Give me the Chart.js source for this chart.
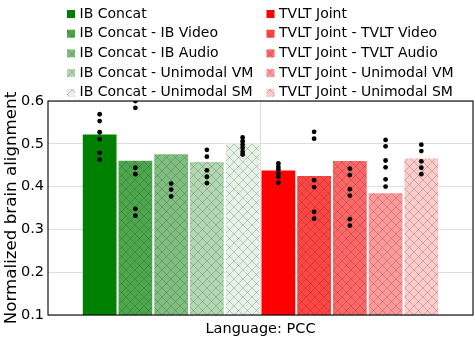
<!DOCTYPE html>
<html>
<head>
<meta charset="utf-8">
<script src="https://cdn.jsdelivr.net/npm/chart.js@4"></script>
<style>
  html, body { margin: 0; padding: 0; background: #fff; }
  #wrap { width: 475px; height: 358px; }
</style>
</head>
<body>
<div id="wrap"><canvas id="chart" width="475" height="358"></canvas></div>
<script>
const categories = ['Language: PCC'];

const ibLabels = ['IB Concat', 'IB Concat - IB Video', 'IB Concat - IB Audio', 'IB Concat - Unimodal VM', 'IB Concat - Unimodal SM'];
const tvltLabels = ['TVLT Joint', 'TVLT Joint - TVLT Video', 'TVLT Joint - TVLT Audio', 'TVLT Joint - Unimodal VM', 'TVLT Joint - Unimodal SM'];

const ibMeans = [0.524, 0.463, 0.478, 0.460, 0.502];
const tvltMeans = [0.440, 0.427, 0.462, 0.387, 0.468];

// per-subject values (black dots)
const ibPoints = [
  [0.569, 0.553, 0.527, 0.511, 0.479, 0.463],
  [0.600, 0.584, 0.444, 0.429, 0.348, 0.332],
  [0.407, 0.393, 0.377],
  [0.486, 0.470, 0.438, 0.423, 0.408],
  [0.515, 0.506, 0.498, 0.490, 0.481, 0.475]
];
const tvltPoints = [
  [0.454, 0.446, 0.440, 0.430, 0.423, 0.409],
  [0.528, 0.512, 0.415, 0.399, 0.341, 0.325],
  [0.442, 0.427, 0.394, 0.379, 0.324, 0.309],
  [0.509, 0.494, 0.461, 0.445, 0.417, 0.400],
  [0.498, 0.483, 0.459, 0.444, 0.429]
];

const ibColors = ['#008000', '#4ca64c', '#7fbf7f', '#b2d8b2', '#e5f2e5'];
const tvltColors = ['#ff0000', '#ff4444', '#ff6666', '#ff9999', '#ffcccc'];

const FONT = "'DejaVu Sans', sans-serif";

function hatch(color) {
  const c = document.createElement('canvas');
  c.width = 9; c.height = 9;
  const g = c.getContext('2d');
  g.fillStyle = color;
  g.fillRect(0, 0, 9, 9);
  g.strokeStyle = 'rgba(40,40,40,0.25)';
  g.lineWidth = 0.9;
  g.beginPath();
  g.moveTo(-1, -1); g.lineTo(10, 10);
  g.moveTo(-1, 10); g.lineTo(10, -1);
  g.stroke();
  return document.getElementById('chart').getContext('2d').createPattern(c, 'repeat');
}

const labels = ibLabels.concat(tvltLabels);
const means = ibMeans.concat(tvltMeans);
const points = ibPoints.concat(tvltPoints);
const colors = ibColors.concat(tvltColors);

const datasets = labels.map((l, i) => ({
  label: l,
  data: [means[i]],
  backgroundColor: (i % 5 === 0) ? colors[i] : hatch(colors[i]),
  borderColor: 'rgba(255,255,255,0.35)',
  borderWidth: 1,
  borderSkipped: false,
  categoryPercentage: 0.841,
  barPercentage: 1.0,
}));

// legend in two columns, IB left / TVLT right
const legendPlugin = {
  id: 'twoColLegend',
  afterDraw(chart) {
    const ctx = chart.ctx;
    ctx.save();
    ctx.font = '14px ' + FONT;
    ctx.textBaseline = 'middle';
    chart.data.datasets.forEach((ds, i) => {
      const col = Math.floor(i / 5);
      const row = i % 5;
      const bx = col === 0 ? 67 : 266.5;
      const y = 14 + row * 19.7;
      ctx.fillStyle = ds.backgroundColor;
      ctx.fillRect(bx, y - 4, 8, 8);
      ctx.fillStyle = '#000';
      ctx.fillText(ds.label, bx + 12.5, y);
    });
    ctx.restore();
  }
};

const dotsPlugin = {
  id: 'dots',
  afterDatasetsDraw(chart) {
    const ctx = chart.ctx;
    const a = chart.chartArea;
    const y = chart.scales.y;
    ctx.save();
    // frame
    ctx.strokeStyle = '#000';
    ctx.lineWidth = 1.1;
    ctx.strokeRect(a.left, a.top, a.right - a.left, a.bottom - a.top);
    ctx.beginPath();
    ctx.rect(a.left, a.top, a.right - a.left, a.bottom - a.top);
    ctx.clip();
    ctx.fillStyle = '#000';
    points.forEach((vals, i) => {
      const bar = chart.getDatasetMeta(i).data[0];
      vals.forEach(v => {
        ctx.beginPath();
        ctx.arc(bar.x, y.getPixelForValue(v), 2.4, 0, Math.PI * 2);
        ctx.fill();
      });
    });
    ctx.restore();
  }
};

new Chart(document.getElementById('chart'), {
  type: 'bar',
  data: { labels: categories, datasets },
  options: {
    responsive: false,
    animation: false,
    layout: { padding: { top: 101, right: 2, left: 0, bottom: 0 } },
    plugins: { legend: { display: false }, tooltip: { enabled: false } },
    scales: {
      x: {
        grid: { color: '#dddddd', offset: false, drawTicks: false },
        border: { display: false },
        ticks: { color: '#000', font: { family: FONT, size: 14.5 }, padding: 5.5 },
        afterFit(scale) { scale.height = 43; }
      },
      y: {
        min: 0.1,
        max: 0.6,
        grid: { color: '#dddddd', drawTicks: false },
        border: { display: false },
        ticks: {
          stepSize: 0.1,
          color: '#000',
          padding: 4,
          font: { family: FONT, size: 14.5 },
          callback: v => v.toFixed(1)
        },
        title: {
          display: true,
          text: 'Normalized brain alignment',
          color: '#000',
          font: { family: FONT, size: 16.7 },
          padding: { top: 2, bottom: 0 }
        },
        afterFit(scale) { scale.width = 48; }
      }
    }
  },
  plugins: [legendPlugin, dotsPlugin]
});
</script>
</body>
</html>
